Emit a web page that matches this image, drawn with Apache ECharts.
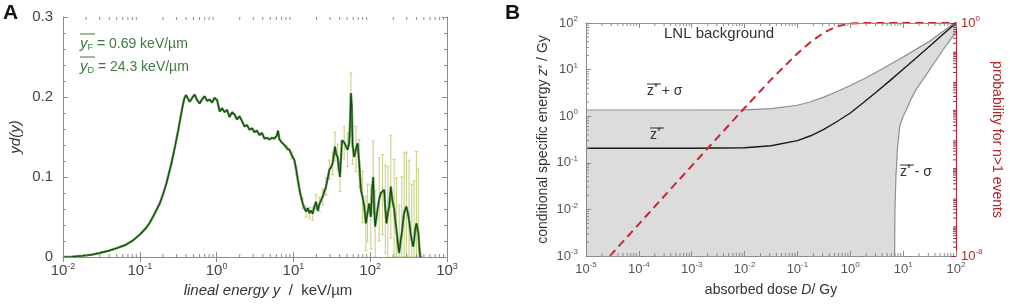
<!DOCTYPE html>
<html><head><meta charset="utf-8">
<script src="https://cdn.jsdelivr.net/npm/echarts@6/dist/echarts.min.js"></script>
<style>html,body{margin:0;padding:0;background:#fff}#c{width:1010px;height:304px}</style>
</head><body><div id="c"></div>
<script>
// ---------- Panel A data: microdosimetric spectrum yd(y) ----------
const lineal = [
0.01,0.013,0.018,0.024,0.03,0.04,0.05,0.065,0.082,0.1,0.12,0.135,0.15,0.182,0.2,0.222,0.258,0.29,0.316,0.34,0.36,0.38,0.4,0.42,
0.446,0.481,0.518,0.558,0.601,0.648,0.698,0.753,0.811,0.874,
0.942,1.015,1.05,1.094,1.179,1.27,1.368,1.474,1.589,1.712,
1.845,1.989,2.143,2.309,2.488,2.681,2.889,3.113,3.355,3.615,
3.896,4.198,4.523,4.874,5.253,5.66,6.1,6.3,6.58,7.09,
7.64,8.23,8.87,9.56,10.3,10.94,11.44,11.97,12.59,13.2,
13.9,14.6,15.35,16.14,16.98,17.8,18.75,19.7,20.7,21.8,
22.9,24.0,25.3,26.6,27.9,29.4,30.9,32.4,34.8,36.2,
37.6,39.0,40.4,42.9,45.9,48.3,50.7,53.3,55.0,56.1,
57.5,59.0,62.0,65.2,68.5,72.0,75.7,79.5,83.6,87.9,
92.3,97,102,106,109.4,112.7,116.1,124.4,130.9,137.6,
144.5,152,157.4,162.9,169.8,176.6,185.6,195,205,212.5,
219.6,229,238,247.5,257.8,268.3,276.6,286.6,296.4,309,
320.9,333.4,347.4,361.4,372.4,386.3,399.5,411.9,424,436.7,
450,469];
const ydy = [
0,0.0004,0.0015,0.003,0.005,0.008,0.011,0.015,0.021,0.028,0.036,0.043,0.051,0.067,0.078,0.092,0.117,0.14,0.158,0.175,0.188,0.198,0.2025,0.2,
0.194,0.199,0.203,0.196,0.192,0.197,0.201,0.195,0.197,0.193,
0.199,0.196,0.19,0.182,0.186,0.181,0.184,0.175,0.181,0.178,
0.172,0.176,0.17,0.163,0.165,0.159,0.161,0.156,0.158,0.1525,
0.155,0.148,0.149,0.147,0.149,0.148,0.152,0.158,0.147,0.143,
0.14,0.136,0.134,0.127,0.121,0.108,0.096,0.085,0.075,0.067,
0.061,0.057,0.061,0.055,0.058,0.054,0.063,0.069,0.058,0.066,
0.071,0.075,0.082,0.088,0.098,0.109,0.112,0.117,0.138,0.128,
0.125,0.112,0.1,0.146,0.143,0.141,0.134,0.142,0.175,0.205,
0.19,0.14,0.125,0.135,0.142,0.117,0.084,0.075,0.063,0.042,
0.055,0.067,0.05,0.085,0.1,0.06,0.038,0.059,0.072,0.08,
0.078,0.084,0.06,0.042,0.055,0.063,0.088,0.07,0.06,0.045,
0.034,0.018,0.005,0.018,0.03,0.045,0.055,0.06,0.063,0.055,
0.046,0.032,0.021,0.013,0.02,0.035,0.042,0.036,0.03,0.012,
0,0];
const ydyErr = [
0,0,0,0,0,0,0,0,0,0,0,0,0,0,0,0,0,0,0,0,0,0,0,0,
0,0,0,0,0,0,0,0,0,0,
0,0,0,0,0,0,0,0,0,0,
0,0,0,0,0,0,0,0,0,0,
0,0,0,0,0,0,0,0,0,0,
0,0.003,0,0.004,0,0.005,0,0.006,0,0.006,
0,0.007,0,0.007,0,0.008,0,0.009,0,0.009,
0,0.01,0,0.011,0,0.012,0,0.014,0.018,0,
0.016,0,0.018,0,0.02,0,0.021,0,0.024,0.025,
0,0.024,0,0.028,0,0.03,0,0.032,0,0.034,
0.036,0,0.04,0,0.045,0,0.045,0,0.052,0,
0.05,0,0.055,0,0.058,0,0.064,0,0.062,0,
0.065,0,0.06,0,0.07,0,0.075,0,0.068,0,
0.075,0,0.07,0,0.075,0,0.09,0,0.08,0,
0,0];

// ---------- Panel B data ----------
const doseB   = [1e-5,1e-4,1e-3,0.01,0.0316,0.1,0.178,0.316,0.562,1,1.78,3.16,5.62,10,17.8,31.6,56.2,100];
const zMean   = [0.205,0.205,0.205,0.21,0.232,0.30,0.38,0.52,0.77,1.17,1.97,3.35,5.8,10.2,18,31.8,56.4,100];
const zUpper  = [1.36,1.36,1.36,1.37,1.45,1.72,2.04,2.57,3.39,4.57,6.31,8.91,12.9,18.6,27.5,40.7,66,105];
const doseLow = [6.9,7.0,7.3,7.8,8.6,10,11.5,14,17.8,23.4,31.6,42,56.2,75,100];
const zLower  = [0.001,0.01,0.05,0.2,0.6,1.0,1.36,2.3,3.8,6.0,9.9,15.9,26,41,65];
const doseP   = [2.83e-5,1e-4,1e-3,0.01,0.0316,0.1,0.178,0.316,0.562,1,1.78,3.16,10,100];
const probMulti = [1e-8,1.25e-7,1.25e-5,1.21e-3,0.0114,0.0902,0.2234,0.469,0.771,0.9596,0.9987,1,1,1];

// ---------- helpers ----------
const FONT = 'Liberation Sans';
const minorMult = [2,3,4,5,6,7,8,9];
function minorVals(e0, e1, withOne){
  const out=[];
  for(let e=e0;e<e1;e++){
    if(withOne && (e%2!==0)) out.push(Math.pow(10,e));
    for(const m of minorMult) out.push(m*Math.pow(10,e));
  }
  return out;
}
function powFmt(v){ const e=Math.round(Math.log10(v)); return '{b|10}{s|'+e+'}'; }
function richPow(sz, color){ return { b:{fontSize:sz,color:color,fontFamily:FONT}, s:{fontSize:Math.round(sz*0.62),color:color,fontFamily:FONT,padding:[0,0,Math.round(sz*0.6),0]} }; }

function xMinor(xi, yi, vals, refY, color, bothSides){
  return {type:'custom', xAxisIndex:xi, yAxisIndex:yi, silent:true, z:8, clip:false,
    data: vals.map(v=>[v, refY]),
    renderItem:(p,api)=>{
      const cs=p.coordSys; const x=api.coord([api.value(0), refY])[0]; const L=3;
      const ch=[{type:'line',shape:{x1:x,y1:cs.y+cs.height,x2:x,y2:cs.y+cs.height-L},style:{stroke:color,lineWidth:1}}];
      if(bothSides) ch.push({type:'line',shape:{x1:x,y1:cs.y,x2:x,y2:cs.y+L},style:{stroke:color,lineWidth:1}});
      return {type:'group',children:ch};
    }};
}
function yMinor(xi, yi, vals, refX, color, side){
  return {type:'custom', xAxisIndex:xi, yAxisIndex:yi, silent:true, z:8, clip:false,
    data: vals.map(v=>[refX, v]),
    renderItem:(p,api)=>{
      const cs=p.coordSys; const y=api.coord([refX, api.value(1)])[1]; const L=3;
      const x0 = side==='left'? cs.x : cs.x+cs.width;
      const x1 = side==='left'? cs.x+L : cs.x+cs.width-L;
      return {type:'line',shape:{x1:x0,y1:y,x2:x1,y2:y},style:{stroke:color,lineWidth:1}};
    }};
}

const gA = '#8c8c8c', txtA = '#444', green = '#3d7a3d', red = '#b3262d';

const chart = echarts.init(document.getElementById('c'), null, {renderer:'canvas'});
const option = {
  animation:false,
  textStyle:{fontFamily:FONT},
  grid:[
    {left:63, top:17, width:384, height:240},
    {left:586, top:23, width:370, height:233}
  ],
  xAxis:[
    {gridIndex:0, type:'log', logBase:10, min:0.01, max:1000, splitNumber:5, position:'bottom', z:10,
     axisLine:{lineStyle:{color:gA}}, axisTick:{inside:true,length:5,lineStyle:{color:gA}}, splitLine:{show:false},
     axisLabel:{formatter:powFmt, margin:5, rich:richPow(15,txtA)},
     name:'{i|lineal energy y}{n|  /  keV/µm}', nameLocation:'middle', nameGap:26,
     nameTextStyle:{padding:[0,0,0,26], rich:{i:{fontStyle:'italic',fontSize:15,color:'#333',fontFamily:FONT}, n:{fontSize:15,color:'#333',fontFamily:FONT}}}},
    {gridIndex:0, type:'log', logBase:10, min:0.01, max:1000, splitNumber:5, position:'top', z:10,
     axisLine:{lineStyle:{color:gA}}, axisTick:{inside:true,length:5,lineStyle:{color:gA}}, splitLine:{show:false}, axisLabel:{show:false}},
    {gridIndex:1, type:'log', logBase:10, min:1e-5, max:100, splitNumber:7, position:'bottom', z:10,
     axisLine:{lineStyle:{color:gA}}, axisTick:{inside:true,length:5,lineStyle:{color:gA}}, splitLine:{show:false},
     axisLabel:{formatter:powFmt, margin:5, rich:richPow(13,'#555')},
     name:'{n|absorbed dose }{i|D}{n|/ Gy}', nameLocation:'middle', nameGap:27,
     nameTextStyle:{rich:{i:{fontStyle:'italic',fontSize:14,color:'#333',fontFamily:FONT}, n:{fontSize:14,color:'#333',fontFamily:FONT}}}},
    {gridIndex:1, type:'log', logBase:10, min:1e-5, max:100, splitNumber:7, position:'top', z:10,
     axisLine:{lineStyle:{color:gA}}, axisTick:{inside:true,length:5,lineStyle:{color:gA}}, splitLine:{show:false}, axisLabel:{show:false}}
  ],
  yAxis:[
    {gridIndex:0, type:'value', min:0, max:0.3, interval:0.1, position:'left', z:10,
     axisLine:{show:true,lineStyle:{color:gA}}, axisTick:{show:true,inside:true,length:5,lineStyle:{color:gA}},
     minorTick:{show:true,splitNumber:5,length:3,lineStyle:{color:gA}}, splitLine:{show:false},
     axisLabel:{margin:10, fontSize:15, color:txtA, formatter:v=>String(+v.toFixed(1))},
     name:'yd(y)', nameLocation:'middle', nameGap:40, nameTextStyle:{fontStyle:'italic', fontSize:15, color:'#333'}},
    {gridIndex:0, type:'value', min:0, max:0.3, interval:0.1, position:'right', z:10,
     axisLine:{show:true,lineStyle:{color:gA}}, axisTick:{show:true,inside:true,length:5,lineStyle:{color:gA}},
     minorTick:{show:true,splitNumber:5,length:3,lineStyle:{color:gA}}, splitLine:{show:false}, axisLabel:{show:false}},
    {gridIndex:1, type:'log', logBase:10, min:1e-3, max:100, splitNumber:5, position:'left', z:10,
     axisLine:{show:true,lineStyle:{color:gA}}, axisTick:{show:true,inside:true,length:5,lineStyle:{color:gA}}, splitLine:{show:false},
     axisLabel:{formatter:powFmt, margin:8, rich:richPow(13,'#555')},
     name:'{n|conditional specific energy }{i|z}{s|*}{n| / Gy}', nameLocation:'middle', nameGap:36,
     nameTextStyle:{rich:{i:{fontStyle:'italic',fontSize:14,color:'#333',fontFamily:FONT}, s:{fontSize:10,color:'#333',fontFamily:FONT,padding:[0,0,0,0]}, n:{fontSize:14,color:'#333',fontFamily:FONT}}}},
    {gridIndex:1, type:'log', logBase:10, min:1e-8, max:1, splitNumber:4, position:'right', z:10,
     axisLine:{show:true,lineStyle:{color:red}}, axisTick:{show:true,inside:true,length:5,lineStyle:{color:red}}, splitLine:{show:false},
     axisLabel:{formatter:powFmt, margin:5, rich:richPow(13,red)},
     name:'probability for n>1 events', nameLocation:'middle', nameGap:34, nameRotate:-90,
     nameTextStyle:{fontSize:14, color:red}}
  ],
  series:[
    // Panel A error bars
    {type:'custom', xAxisIndex:0, yAxisIndex:0, z:2, silent:true,
     data: lineal.map((x,i)=>[x, ydy[i], ydyErr[i]]).filter(d=>d[2]>0),
     renderItem:(p,api)=>{
       const x=api.value(0), v=api.value(1), e=api.value(2);
       const t=api.coord([x, Math.min(v+e,0.3)]), b=api.coord([x, Math.max(v-e,0)]);
       const st={stroke:'#ccd28a',lineWidth:1.1};
       return {type:'group',children:[
         {type:'line',shape:{x1:t[0],y1:t[1],x2:b[0],y2:b[1]},style:st},
         {type:'line',shape:{x1:t[0]-1.5,y1:t[1],x2:t[0]+1.5,y2:t[1]},style:st},
         {type:'line',shape:{x1:b[0]-1.5,y1:b[1],x2:b[0]+1.5,y2:b[1]},style:st}
       ]};
     }},
    {type:'line', xAxisIndex:0, yAxisIndex:0, z:3, silent:true, showSymbol:false, symbol:'none',
     data: lineal.map((x,i)=>[x, ydy[i]]), lineStyle:{color:'#5e9a4e', width:2.4}},
    {type:'line', xAxisIndex:0, yAxisIndex:0, z:4, silent:true, showSymbol:false, symbol:'none',
     data: lineal.map((x,i)=>[x, ydy[i]]), lineStyle:{color:'#124812', width:1.1}},
    // Panel B: grey band (upper) and white cut-out below lower curve
    {type:'line', xAxisIndex:2, yAxisIndex:2, z:1, silent:true, symbol:'none',
     data: doseB.map((d,i)=>[d, zUpper[i]]), lineStyle:{color:'#8f8f8f', width:1.2},
     areaStyle:{color:'#dcdcdc', opacity:1, origin:'start'}},
    {type:'line', xAxisIndex:2, yAxisIndex:2, z:2, silent:true, symbol:'none',
     data: doseLow.map((d,i)=>[d, zLower[i]]), lineStyle:{color:'#8f8f8f', width:1.2},
     areaStyle:{color:'#ffffff', opacity:1, origin:'start'}},
    {type:'line', xAxisIndex:2, yAxisIndex:2, z:3, silent:true, symbol:'none',
     data: doseB.map((d,i)=>[d, zMean[i]]), lineStyle:{color:'#1a1a1a', width:1.4}},
    {type:'line', xAxisIndex:2, yAxisIndex:3, z:4, silent:true, symbol:'none',
     data: doseP.map((d,i)=>[d, probMulti[i]]), lineStyle:{color:'#c8262e', width:2, type:[8,5]}},
    // minor log ticks
    xMinor(0,0,minorVals(-2,3,false),0.1,gA,true),
    xMinor(2,2,minorVals(-5,2,false),1,gA,true),
    yMinor(2,2,minorVals(-3,2,false),1e-3,gA,'left'),
    yMinor(2,3,minorVals(-8,0,true),1e-3,red,'right')
  ],
  graphic:[
    {type:'text', z:100, left:3, top:3, style:{text:'A', font:'bold 21px '+FONT, fill:'#111'}},
    {type:'text', z:100, left:505, top:3, style:{text:'B', font:'bold 21px '+FONT, fill:'#111'}},
    // Panel A annotations
    {type:'text', z:100, x:80, y:44, style:{text:'{i|y}{sub|F}{n| = 0.69 keV/µm}', verticalAlign:'middle',
      rich:{i:{fontStyle:'italic',fontSize:15,fill:green,fontFamily:FONT}, sub:{fontSize:9,fill:green,fontFamily:FONT,padding:[8,0,0,0]}, n:{fontSize:14,fill:green,fontFamily:FONT}}}},
    {type:'line', z:100, shape:{x1:80,y1:34,x2:95,y2:34}, style:{stroke:green,lineWidth:1}},
    {type:'text', z:100, x:80, y:67, style:{text:'{i|y}{sub|D}{n| = 24.3 keV/µm}', verticalAlign:'middle',
      rich:{i:{fontStyle:'italic',fontSize:15,fill:green,fontFamily:FONT}, sub:{fontSize:9,fill:green,fontFamily:FONT,padding:[8,0,0,0]}, n:{fontSize:14,fill:green,fontFamily:FONT}}}},
    {type:'line', z:100, shape:{x1:80,y1:57,x2:95,y2:57}, style:{stroke:green,lineWidth:1}},
    // Panel B annotations
    {type:'text', z:100, x:664, y:34, style:{text:'LNL background', verticalAlign:'middle', font:'15px '+FONT, fill:'#333'}},
    {type:'text', z:100, x:647, y:91, style:{text:'{z|z}{s|*}{n| + σ}', verticalAlign:'middle',
      rich:{z:{fontSize:14,fill:'#333',fontFamily:FONT}, s:{fontSize:10,fill:'#333',fontFamily:FONT,padding:[0,0,6,0]}, n:{fontSize:14,fill:'#333',fontFamily:FONT}}}},
    {type:'line', z:100, shape:{x1:647,y1:84,x2:661,y2:84}, style:{stroke:'#333',lineWidth:1}},
    {type:'text', z:100, x:650, y:135, style:{text:'{z|z}{s|*}', verticalAlign:'middle',
      rich:{z:{fontSize:14,fill:'#333',fontFamily:FONT}, s:{fontSize:10,fill:'#333',fontFamily:FONT,padding:[0,0,6,0]}}}},
    {type:'line', z:100, shape:{x1:650,y1:128,x2:664,y2:128}, style:{stroke:'#333',lineWidth:1}},
    {type:'text', z:100, x:900, y:172, style:{text:'{z|z}{s|*}{n| - σ}', verticalAlign:'middle',
      rich:{z:{fontSize:14,fill:'#333',fontFamily:FONT}, s:{fontSize:10,fill:'#333',fontFamily:FONT,padding:[0,0,6,0]}, n:{fontSize:14,fill:'#333',fontFamily:FONT}}}},
    {type:'line', z:100, shape:{x1:900,y1:165,x2:914,y2:165}, style:{stroke:'#333',lineWidth:1}}
  ]
};
chart.setOption(option);
</script></body></html>
